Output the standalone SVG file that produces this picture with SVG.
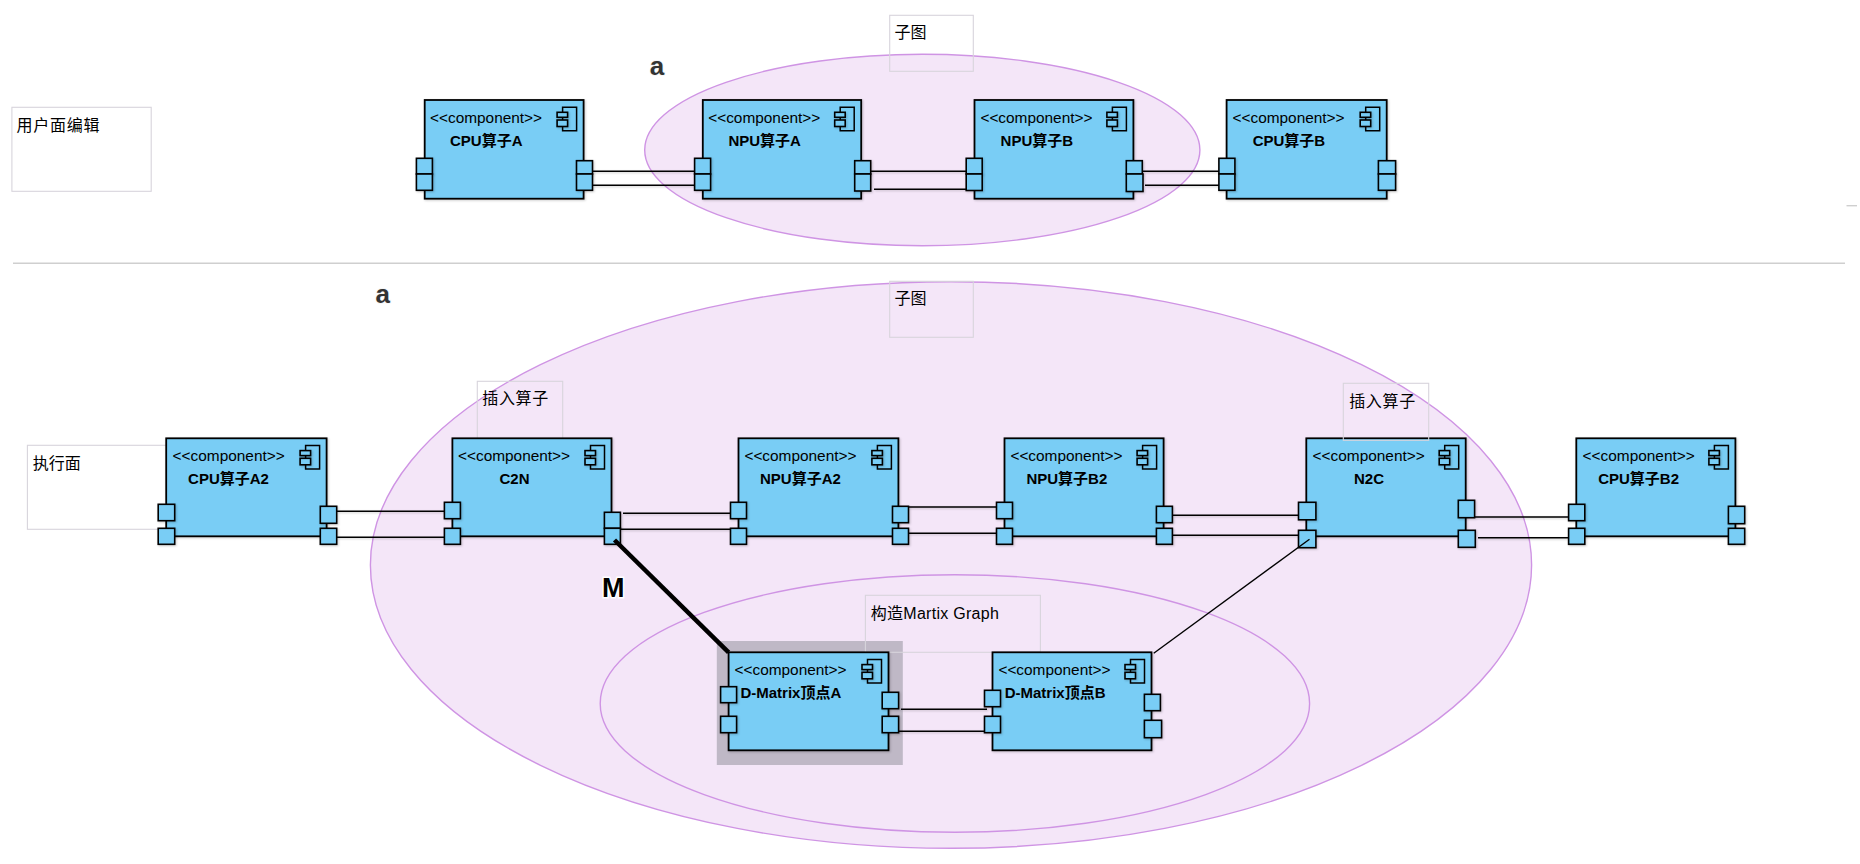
<svg xmlns="http://www.w3.org/2000/svg" width="1860" height="864" viewBox="0 0 1860 864">
<style>
text{font-family:"Liberation Sans","Noto Sans CJK SC",sans-serif;fill:#000}
.st{font-size:15.4px}
.nm{font-size:15px;font-weight:700}
.lb{font-size:16px}
.big{font-size:26px;font-weight:700;fill:#333;stroke:#f4f4f4;stroke-width:1.5;paint-order:stroke}
.box{fill:#79cdf5;stroke:#000;stroke-width:1.8;filter:drop-shadow(1px 1px 1px rgba(0,0,0,.2))}
.port{fill:#79cdf5;stroke:#000;stroke-width:1.6;filter:drop-shadow(1px 1px 1px rgba(0,0,0,.2))}
.ic{fill:none;stroke:#000;stroke-width:1.5}
.note{fill:none;stroke:#d8d4dc;stroke-width:1.1}
.ell{fill:#f4e6f8;stroke:#cf94e4;stroke-width:1.4}
.ln{stroke:#000;stroke-width:1.5;fill:none;filter:drop-shadow(1px 1px 1px rgba(0,0,0,.2))}
.sep{stroke:#cfcfcf;stroke-width:1.4}
</style>
<defs>
<g id="icon">
<path class="ic" d="M-21 12.3V7.3H-7V30.7H-21V26.7"/>
<path class="ic" d="M-21 17.3V20"/>
<rect class="port" x="-26.5" y="12.3" width="10.5" height="5"/>
<rect class="port" x="-26.5" y="20" width="10.5" height="6.5"/>
</g>
</defs>
<rect width="1860" height="864" fill="#fff"/>
<g id="regions">
<ellipse id="subgraph-top" class="ell" cx="922.3" cy="150" rx="277.6" ry="95.7"/>
<ellipse id="subgraph-bottom" class="ell" cx="951" cy="565" rx="580.6" ry="283.3"/>
<ellipse id="matrix-region" class="ell" cx="954.9" cy="703.5" rx="354.7" ry="128.8"/>
<rect id="selection" x="716.8" y="641" width="186" height="124" fill="#bfb8c6"/>
<line class="sep" x1="13" y1="263.3" x2="1845" y2="263.3"/>
<line class="sep" x1="1846.5" y1="205.7" x2="1857" y2="205.7"/>
</g>
<g id="note-user"><rect class="note" x="11.9" y="107.3" width="139.3" height="84"/><text class="lb" x="16.6" y="130.7" textLength="83">用户面编辑</text></g>
<g id="note-sub1"><rect class="note" x="889.7" y="15.3" width="83.6" height="56"/><text class="lb" x="894.4" y="38.3">子图</text></g>
<g id="note-sub2"><rect class="note" x="889.7" y="281.3" width="83.6" height="56"/><text class="lb" x="894.4" y="304.3">子图</text></g>
<g id="note-exec"><rect class="note" x="27.4" y="445.3" width="145.6" height="84"/><text class="lb" x="32.8" y="469">执行面</text></g>
<g id="note-insert1"><rect class="note" x="477.3" y="381.3" width="85.4" height="58"/><text class="lb" x="482.3" y="404.3" textLength="66">插入算子</text></g>
<g id="note-matrix"><rect class="note" x="865.4" y="595.3" width="175" height="57"/><text class="lb" x="870.8" y="619" textLength="128">构造Martix Graph</text></g>
<text class="big" x="649.8" y="75">a</text>
<text class="big" x="375.5" y="303.3">a</text>
<g id="connectors">
<path class="ln" d="M592.5 171.3H695M592.5 185.3H695M871 171.3H966M874 189.3H966M1143 171.3H1219M1145 185.3H1219"/>
<path class="ln" d="M337 511.3H444M337 537.3H444M623 513.3H730.5M621 529.3H730.5M908.5 507H996.5M908.5 533.3H996.5M1173 515.3H1298.5M1173 535.3H1298.5M1475 517H1568.6M1478 537.7H1568.6"/>
<path class="ln" d="M901 709.3H987M898.6 731.3H984.5"/>
</g>
<g id="cpu-a">
<rect class="box" x="424.7" y="100" width="158.9" height="98.7"/><use href="#icon" x="583.6" y="100"/>
<text class="st" x="430" y="123.3">&lt;&lt;component&gt;&gt;</text><text class="nm" x="450" y="145.7">CPU算子A</text>
<rect class="port" x="416.4" y="158.3" width="16" height="15.7"/><rect class="port" x="416.4" y="174" width="16" height="16.3"/>
<rect class="port" x="576.5" y="160.7" width="16" height="13.3"/><rect class="port" x="576.5" y="174" width="16" height="16.3"/>
</g>
<g id="npu-a">
<rect class="box" x="702.8" y="100" width="158.4" height="98.7"/><use href="#icon" x="861.2" y="100"/>
<text class="st" x="708.2" y="123.3">&lt;&lt;component&gt;&gt;</text><text class="nm" x="728.4" y="145.7">NPU算子A</text>
<rect class="port" x="694.6" y="158.3" width="16" height="15.7"/><rect class="port" x="694.6" y="174" width="16" height="16.3"/>
<rect class="port" x="854.7" y="160.7" width="16" height="13.3"/><rect class="port" x="854.7" y="174" width="16" height="17"/>
</g>
<g id="npu-b">
<rect class="box" x="974.5" y="100" width="158.9" height="98.7"/><use href="#icon" x="1133.4" y="100"/>
<text class="st" x="980.4" y="123.3">&lt;&lt;component&gt;&gt;</text><text class="nm" x="1000.6" y="145.7">NPU算子B</text>
<rect class="port" x="966.2" y="158.3" width="16" height="15.7"/><rect class="port" x="966.2" y="174" width="16" height="16.5"/>
<rect class="port" x="1126.3" y="160.7" width="16" height="13.3"/><rect class="port" x="1126.3" y="174" width="16.7" height="17.5"/>
</g>
<g id="cpu-b">
<rect class="box" x="1226.6" y="100" width="160.1" height="98.7"/><use href="#icon" x="1386.7" y="100"/>
<text class="st" x="1232.5" y="123.3">&lt;&lt;component&gt;&gt;</text><text class="nm" x="1252.7" y="145.7">CPU算子B</text>
<rect class="port" x="1218.9" y="158.3" width="16" height="15.7"/><rect class="port" x="1218.9" y="174" width="16" height="16.3"/>
<rect class="port" x="1378.4" y="160.7" width="17.2" height="13.3"/><rect class="port" x="1378.4" y="174" width="17.2" height="16.3"/>
</g>
<g id="cpu-a2">
<rect class="box" x="166.2" y="438.3" width="160.4" height="98"/><use href="#icon" x="326.6" y="438.3"/>
<text class="st" x="172.6" y="460.7">&lt;&lt;component&gt;&gt;</text><text class="nm" x="188.1" y="484">CPU算子A2</text>
<rect class="port" x="158.2" y="504.3" width="16.5" height="16.4"/><rect class="port" x="158.2" y="528.3" width="16.5" height="16"/>
<rect class="port" x="320.3" y="506.3" width="16.4" height="17"/><rect class="port" x="320.3" y="528.3" width="16.4" height="16"/>
</g>
<g id="c2n">
<rect class="box" x="452.4" y="438.3" width="159.1" height="98"/><use href="#icon" x="611.5" y="438.3"/>
<text class="st" x="458" y="460.7">&lt;&lt;component&gt;&gt;</text><text class="nm" x="499.5" y="484">C2N</text>
<rect class="port" x="444.4" y="502.3" width="16" height="16.4"/><rect class="port" x="444.4" y="528.3" width="16" height="16"/>
<rect class="port" x="604.4" y="512.3" width="16" height="16"/><rect class="port" x="604.4" y="528.3" width="16" height="16"/>
</g>
<g id="npu-a2">
<rect class="box" x="738.5" y="438.3" width="159.9" height="98"/><use href="#icon" x="898.4" y="438.3"/>
<text class="st" x="744.4" y="460.7">&lt;&lt;component&gt;&gt;</text><text class="nm" x="760" y="484">NPU算子A2</text>
<rect class="port" x="730.5" y="502.3" width="16" height="16.4"/><rect class="port" x="730.5" y="528.3" width="16" height="16"/>
<rect class="port" x="892.5" y="506.3" width="16" height="16.4"/><rect class="port" x="892.5" y="528.3" width="16" height="16"/>
</g>
<g id="npu-b2">
<rect class="box" x="1004.5" y="438.3" width="159.1" height="98"/><use href="#icon" x="1163.6" y="438.3"/>
<text class="st" x="1010.4" y="460.7">&lt;&lt;component&gt;&gt;</text><text class="nm" x="1026.4" y="484">NPU算子B2</text>
<rect class="port" x="996.5" y="502.3" width="16" height="16.4"/><rect class="port" x="996.5" y="528.3" width="16" height="16"/>
<rect class="port" x="1156.4" y="506.3" width="16" height="16.4"/><rect class="port" x="1156.4" y="528.3" width="16" height="16"/>
</g>
<g id="n2c">
<rect class="box" x="1306.3" y="438.3" width="159.4" height="98"/><use href="#icon" x="1465.7" y="438.3"/>
<text class="st" x="1312.6" y="460.7">&lt;&lt;component&gt;&gt;</text><text class="nm" x="1354" y="484">N2C</text>
<rect class="port" x="1298.5" y="502.3" width="17.4" height="17.5"/><rect class="port" x="1298.5" y="530.3" width="17.4" height="17.4"/>
<rect class="port" x="1458.3" y="500.3" width="16.3" height="17.4"/><rect class="port" x="1458.3" y="530.3" width="17" height="17"/>
</g>
<g id="cpu-b2">
<rect class="box" x="1576.3" y="438.3" width="159.1" height="98"/><use href="#icon" x="1735.4" y="438.3"/>
<text class="st" x="1582.6" y="460.7">&lt;&lt;component&gt;&gt;</text><text class="nm" x="1598.2" y="484">CPU算子B2</text>
<rect class="port" x="1568.6" y="504.3" width="16.2" height="16.4"/><rect class="port" x="1568.6" y="528.3" width="16.2" height="16"/>
<rect class="port" x="1728.4" y="506.3" width="16.3" height="17.4"/><rect class="port" x="1728.4" y="528.3" width="16.3" height="16"/>
</g>
<g id="note-insert2"><rect class="note" x="1343.3" y="383.3" width="85.4" height="57"/><text class="lb" x="1349.2" y="406.7" textLength="66">插入算子</text></g>
<g id="d-matrix-a">
<rect class="box" x="728.6" y="652.3" width="159.9" height="98"/><use href="#icon" x="888.5" y="652.3"/>
<text class="st" x="734.5" y="675">&lt;&lt;component&gt;&gt;</text><text class="nm" x="740.4" y="698.3">D-Matrix顶点A</text>
<rect class="port" x="720.6" y="686.7" width="16" height="16"/><rect class="port" x="720.6" y="716.3" width="16" height="16.4"/>
<rect class="port" x="882.2" y="692.3" width="16.4" height="16.4"/><rect class="port" x="882.2" y="716.3" width="16.4" height="16.4"/>
</g>
<g id="d-matrix-b">
<rect class="box" x="992.5" y="652.3" width="159" height="98"/><use href="#icon" x="1151.5" y="652.3"/>
<text class="st" x="998.4" y="675">&lt;&lt;component&gt;&gt;</text><text class="nm" x="1004.7" y="698.3">D-Matrix顶点B</text>
<rect class="port" x="984.5" y="690.3" width="16" height="16.4"/><rect class="port" x="984.5" y="716.3" width="16" height="16.4"/>
<rect class="port" x="1144.4" y="694.3" width="16" height="16.4"/><rect class="port" x="1144.4" y="720.3" width="17.2" height="17.4"/>
</g>
<g id="connectors-top">
<line x1="1153.7" y1="653.3" x2="1309.5" y2="539.3" stroke="#000" stroke-width="1.4"/>
<line x1="614.5" y1="540" x2="728.6" y2="652.3" stroke="#000" stroke-width="4.5"/>
</g>
<text x="602" y="596.5" font-size="27" font-weight="700" fill="#000" stroke="#fff" stroke-width="3" paint-order="stroke">M</text>
</svg>
